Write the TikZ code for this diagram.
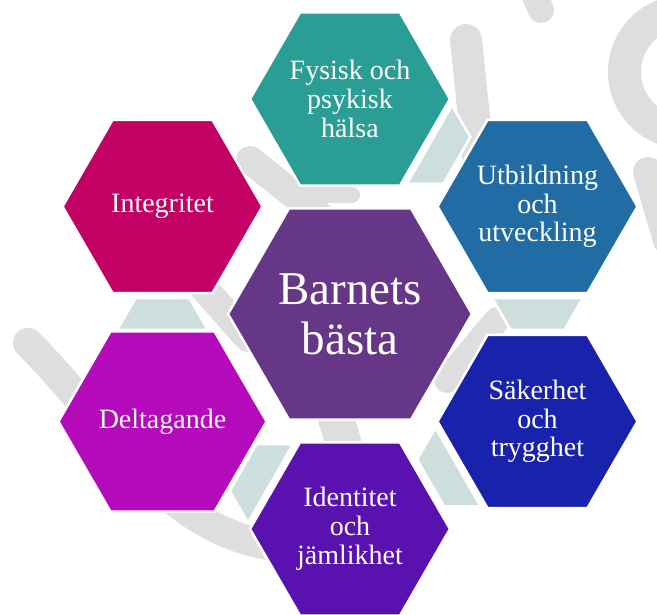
\documentclass[tikz,border=0pt]{standalone}
\usepackage{fontspec}
\setmainfont{Liberation Serif}
\usetikzlibrary{calc,shapes.geometric}
\definecolor{cfys}{HTML}{2A9E94}
\definecolor{cutb}{HTML}{216CA4}
\definecolor{csak}{HTML}{1922AA}
\definecolor{cide}{HTML}{5912B0}
\definecolor{cdel}{HTML}{B40ABB}
\definecolor{cint}{HTML}{C30064}
\definecolor{ccen}{HTML}{663687}
\definecolor{cconn}{HTML}{CCDFDD}
\definecolor{cwm}{HTML}{DEDEDE}
\newcommand\hexconn[2]{%
  \filldraw[connpiece]
    ($(#1)!91.6pt!(#2)!45.3pt!90:(#2)$) --
    ($(#1)!91.6pt!(#2)!45.3pt!-90:(#2)$) --
    ($(#1)!123.3pt!(#2)!27pt!-90:(#2)$) --
    ($(#1)!123.3pt!(#2)!27pt!90:(#2)$) -- cycle;}
\begin{document}
\begin{tikzpicture}[x=1pt,y=-1pt,
  hexbox/.style={regular polygon, regular polygon sides=6, inner sep=0pt,
    minimum size=200pt, draw=white, line width=2.5pt, text=white, align=center,
    font={\fontsize{28}{28.8}\selectfont}},
  cenbox/.style={hexbox, minimum size=244pt, font={\fontsize{47}{50}\selectfont}},
  connpiece/.style={fill=cconn, draw=white, line width=2.5pt, line join=miter},
  wm/.style={draw=cwm, line cap=round, line join=round}]
\useasboundingbox (0,0) rectangle (657,615);
\clip (0,0) rectangle (657,615);
\fill[white] (0,0) rectangle (657,615);
% watermark
\draw[wm, line width=28pt] (250,160) -- (318,214);
\draw[wm, line width=16pt] (295,195) -- (352,195);
\draw[wm, line width=28pt] (203,287) -- (248,338);
\draw[wm, line width=30pt] (28,343) .. controls (120,435) and (170,545) .. (300,548);
\draw[wm, line width=26pt] (497,320) -- (447,380);
\draw[wm, line width=36pt] (332,405) -- (344,445);
\draw[wm, line width=32pt] (466,40) -- (480,175);
\draw[wm, line width=26pt] (528,-20) -- (541,10);
\draw[wm, line width=33pt] (685,72) circle[radius=60.5];
\draw[wm, line width=30pt] (648,172) -- (668,240);
% hexagon centres
\coordinate (pfys) at (350,99);
\coordinate (putb) at (537.5,206.5);
\coordinate (psak) at (537.5,421.5);
\coordinate (pide) at (350,529);
\coordinate (pdel) at (162.5,421.5);
\coordinate (pint) at (162.5,206.5);
\coordinate (pcen) at (350,314);
% connectors
\hexconn{pfys}{putb}
\hexconn{putb}{psak}
\hexconn{psak}{pide}
\hexconn{pide}{pdel}
\hexconn{pdel}{pint}
% hexagons
\node[cenbox, fill=ccen] (cen) at (pcen) {Barnets\\bästa};
\node[hexbox, fill=cfys] (fys) at (pfys) {Fysisk och\\psykisk\\hälsa};
\node[hexbox, fill=cutb] (utb) at (putb) {Utbildning\\och\\utveckling};
\node[hexbox, fill=csak] (sak) at (psak) {Säkerhet\\och\\trygghet};
\node[hexbox, fill=cide] (ide) at (pide) {Identitet\\och\\jämlikhet};
\node[hexbox, fill=cdel] (del) at (pdel) {Deltagande};
\node[hexbox, fill=cint] (int) at (pint) {Integritet};
\end{tikzpicture}
\end{document}
